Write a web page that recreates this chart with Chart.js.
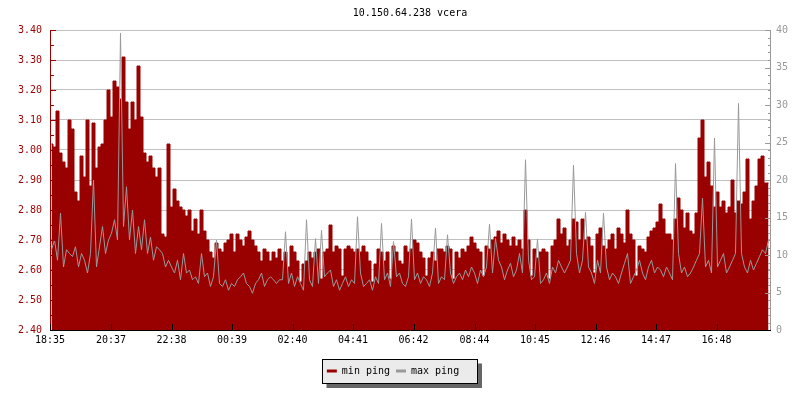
<!DOCTYPE html>
<html><head><meta charset="utf-8">
<script src="https://cdn.jsdelivr.net/npm/chart.js@4/dist/chart.umd.min.js"></script>
<style>html,body{margin:0;padding:0;background:#fff}canvas{display:block}</style>
</head><body>
<canvas id="c" width="800" height="400"></canvas>
<script>
const chartTitle = '10.150.64.238 vcera';
const seriesNames = ['min ping', 'max ping'];
const startTime = '18:35';
const stepMinutes = 6;
const tickLabels = ['18:35','20:37','22:38','00:39','02:40','04:41','06:42','08:44','10:45','12:46','14:47','16:48'];
const leftTickLabels = ['2.40','2.50','2.60','2.70','2.80','2.90','3.00','3.10','3.20','3.30','3.40'];
const rightTickLabels = ['0','5','10','15','20','25','30','35','40'];

const minPing = [
3.02,3.01,3.13,2.99,2.96,2.94,3.10,3.07,2.86,2.83,2.98,2.91,3.10,2.88,3.09,2.94,3.01,3.02,3.10,3.20,
3.11,3.23,3.21,3.17,3.31,3.16,3.07,3.16,3.10,3.28,3.11,2.99,2.96,2.98,2.94,2.91,2.94,2.72,2.71,3.02,
2.81,2.87,2.83,2.81,2.80,2.78,2.80,2.73,2.77,2.72,2.80,2.73,2.70,2.66,2.64,2.69,2.67,2.66,2.69,2.70,
2.72,2.66,2.72,2.70,2.68,2.71,2.73,2.70,2.68,2.66,2.63,2.67,2.66,2.63,2.66,2.64,2.67,2.63,2.66,2.61,
2.68,2.66,2.63,2.56,2.62,2.63,2.66,2.64,2.66,2.67,2.57,2.66,2.67,2.75,2.66,2.68,2.67,2.58,2.67,2.68,
2.67,2.66,2.67,2.66,2.68,2.66,2.63,2.56,2.62,2.67,2.66,2.63,2.66,2.57,2.68,2.66,2.63,2.62,2.68,2.66,
2.67,2.70,2.69,2.66,2.64,2.58,2.64,2.66,2.63,2.67,2.67,2.66,2.68,2.67,2.57,2.66,2.64,2.67,2.66,2.68,
2.71,2.69,2.67,2.66,2.58,2.68,2.67,2.70,2.71,2.73,2.69,2.72,2.70,2.68,2.71,2.68,2.70,2.67,2.80,2.70,
2.58,2.67,2.64,2.66,2.67,2.66,2.57,2.68,2.70,2.77,2.72,2.74,2.68,2.70,2.77,2.76,2.70,2.77,2.70,2.71,
2.68,2.59,2.72,2.74,2.68,2.67,2.70,2.72,2.67,2.74,2.72,2.69,2.80,2.72,2.70,2.58,2.68,2.67,2.66,2.71,
2.73,2.74,2.76,2.82,2.77,2.72,2.72,2.70,2.77,2.84,2.80,2.74,2.79,2.73,2.72,2.79,3.04,3.10,2.91,2.96,
2.88,2.81,2.86,2.81,2.83,2.79,2.81,2.90,2.79,2.83,2.82,2.86,2.97,2.77,2.83,2.88,2.97,2.98,2.89,2.89
];
const maxPing = [
10.7,12.0,9.3,15.6,8.4,10.7,10.2,9.8,11.1,8.4,10.2,9.3,7.6,10.2,20.0,8.4,11.1,13.8,10.2,12.0,
12.9,14.7,12.0,39.6,13.8,19.1,12.0,16.0,10.2,13.8,10.7,14.7,10.2,12.4,9.3,11.1,10.7,10.2,8.4,9.3,
8.4,7.6,9.3,6.7,10.2,7.6,8.0,6.7,7.1,6.2,10.2,7.1,7.6,5.8,7.1,12.0,6.2,5.8,6.7,5.3,
6.2,5.8,6.7,7.1,7.6,6.2,5.8,4.9,6.2,6.7,7.6,5.8,6.7,7.1,6.7,6.2,6.7,6.7,13.1,6.2,
7.6,5.8,7.1,6.2,5.3,14.7,6.7,5.8,12.2,6.2,13.3,7.1,7.6,8.0,5.8,6.7,5.3,6.2,7.1,5.8,
6.7,6.2,15.1,7.6,5.8,6.2,6.7,5.3,7.1,6.2,14.2,6.7,7.6,5.8,11.8,7.1,7.6,6.2,5.8,7.1,
14.8,6.7,7.6,6.2,7.1,6.7,5.8,7.6,13.6,6.2,7.1,6.7,12.7,7.6,6.2,7.1,7.6,6.7,8.0,7.1,
8.4,7.6,6.2,8.0,7.1,8.4,14.1,7.6,12.2,9.3,8.4,6.7,8.0,8.9,7.1,8.0,10.2,7.6,22.7,9.3,
6.7,7.1,12.1,6.2,6.7,7.6,6.2,8.4,7.6,9.3,8.4,7.6,8.4,9.3,22.0,10.2,7.6,9.3,15.7,8.4,
7.6,6.2,9.3,7.6,15.6,8.4,6.7,7.6,7.1,6.2,7.6,8.9,10.2,6.2,7.1,8.0,9.3,7.6,6.7,8.4,
9.3,7.6,8.4,8.0,7.1,8.4,7.6,6.7,22.2,10.2,7.6,8.4,7.1,7.6,8.4,9.3,10.2,17.6,8.4,9.3,
7.6,25.6,8.4,9.3,10.2,7.6,8.4,9.3,10.2,30.2,10.2,8.4,7.6,9.3,8.0,8.9,9.8,10.7,10.2,12.0
];

const FONT = '"DejaVu Sans Mono", "Liberation Mono", monospace';
const RED = '#990000', GREY = '#999999';

function toMinutes(s) {
  const [h, m] = s.split(':').map(Number);
  const [h0, m0] = startTime.split(':').map(Number);
  return ((h * 60 + m) - (h0 * 60 + m0) + 1440) % 1440;
}
const tickMinutes = tickLabels.map(toMinutes);
const daySpan = 1440;
const minData = minPing.map((v, i) => ({ x: i * stepMinutes + stepMinutes / 2, y: v }));
const maxData = maxPing.map((v, i) => ({ x: i * stepMinutes + stepMinutes / 2, y: v }));

const decor = {
  id: 'decor',
  afterLayout(chart) {
    const lg = chart.legend;
    if (lg) { lg.left -= 7; lg.right -= 7; }
  },
  beforeDraw(chart) {
    const ctx = chart.ctx, lg = chart.legend, a = chart.chartArea;
    ctx.save();
    ctx.font = '10px ' + FONT;
    ctx.fillStyle = '#000';
    ctx.textAlign = 'center';
    ctx.textBaseline = 'middle';
    ctx.fillText(chartTitle, (a.left + a.right) / 2, 13);
    if (lg && lg.lineWidths) {
      const p = lg.options.labels.padding;
      const lw = lg.lineWidths[0];
      const sx = (lg.left + p + lg.right - lw) / 2;
      const ex = sx + lw - p;
      const cy = lg.top + p + 5;
      const L = Math.round(sx - 5) + 0.5, R = Math.round(ex + 18) + 0.5;
      const T = Math.round(cy - 12) + 0.5, B = Math.round(cy + 12) + 0.5;
      ctx.fillStyle = '#666666';
      ctx.fillRect(L + 4, T + 4, R - L + 0.5, B - T + 0.5);
      ctx.fillStyle = '#ebebeb';
      ctx.fillRect(L, T, R - L, B - T);
      ctx.strokeStyle = '#000';
      ctx.lineWidth = 1;
      ctx.strokeRect(L, T, R - L, B - T);
    }
    ctx.restore();
  },
  afterDatasetsDraw(chart) {
    const ctx = chart.ctx, a = chart.chartArea;
    const { x, y, y1 } = chart.scales;
    ctx.save();
    ctx.lineWidth = 1;
    ctx.strokeStyle = RED;
    ctx.beginPath();
    ctx.moveTo(a.left + 0.5, a.top);
    ctx.lineTo(a.left + 0.5, a.bottom + 1);
    y.ticks.forEach((t, i) => {
      const py = Math.round(y.getPixelForValue(t.value)) + 0.5;
      ctx.moveTo(a.left, py); ctx.lineTo(a.left + 6, py);
      if (i < y.ticks.length - 1) {
        const pm = Math.round(y.getPixelForValue((t.value + y.ticks[i + 1].value) / 2)) + 0.5;
        ctx.moveTo(a.left, pm); ctx.lineTo(a.left + 4, pm);
      }
    });
    ctx.stroke();
    ctx.strokeStyle = GREY;
    ctx.beginPath();
    ctx.moveTo(a.right + 0.5, a.top);
    ctx.lineTo(a.right + 0.5, a.bottom + 1);
    y1.ticks.forEach((t, i) => {
      const py = Math.round(y1.getPixelForValue(t.value)) + 0.5;
      ctx.moveTo(a.right + 1, py); ctx.lineTo(a.right - 5, py);
      if (i < y1.ticks.length - 1) {
        const step = (y1.ticks[i + 1].value - t.value) / 5;
        for (let k = 1; k < 5; k++) {
          const pm = Math.round(y1.getPixelForValue(t.value + k * step)) + 0.5;
          ctx.moveTo(a.right + 1, pm); ctx.lineTo(a.right - 2, pm);
        }
      }
    });
    ctx.stroke();
    ctx.strokeStyle = '#000';
    ctx.beginPath();
    ctx.moveTo(a.left, a.bottom + 0.5);
    ctx.lineTo(a.right + 1, a.bottom + 0.5);
    x.ticks.forEach(t => {
      const px = Math.round(x.getPixelForValue(t.value)) + 0.5;
      ctx.moveTo(px, a.bottom + 1); ctx.lineTo(px, a.bottom - 6);
    });
    ctx.stroke();
    ctx.restore();
  }
};

new Chart(document.getElementById('c'), {
  type: 'line',
  data: {
    datasets: [
      { label: seriesNames[0], data: minData, yAxisID: 'y', fill: 'start', stepped: 'middle',
        backgroundColor: RED, borderColor: RED, borderWidth: 1, pointRadius: 0, order: 2 },
      { label: seriesNames[1], data: maxData, yAxisID: 'y1', fill: false, tension: 0,
        backgroundColor: GREY, borderColor: GREY, borderWidth: 1, pointRadius: 0, order: 1 }
    ]
  },
  options: {
    responsive: false,
    animation: false,
    layout: { padding: { top: 30, left: 0, right: 0, bottom: 14 } },
    plugins: {
      title: { display: false },
      tooltip: { enabled: false },
      legend: {
        display: true, position: 'bottom',
        labels: {
          boxWidth: 10, boxHeight: 3, padding: 6, color: '#000',
          font: { family: FONT, size: 10 },
          generateLabels(chart) {
            return chart.data.datasets.map((ds, i) => ({
              text: ds.label, fillStyle: ds.borderColor, strokeStyle: ds.borderColor,
              lineWidth: 0, hidden: false, datasetIndex: i, fontColor: '#000'
            }));
          }
        }
      }
    },
    scales: {
      x: {
        type: 'linear', min: 0, max: daySpan,
        afterBuildTicks(scale) { scale.ticks = tickMinutes.map(v => ({ value: v })); },
        afterFit(scale) { scale.height = 30; },
        grid: { display: false, drawTicks: false },
        border: { display: false },
        ticks: {
          autoSkip: false, maxRotation: 0, padding: 4, color: '#000',
          font: { family: FONT, size: 10 },
          callback(v) { const k = tickMinutes.indexOf(v); return k >= 0 ? tickLabels[k] : ''; }
        }
      },
      y: {
        position: 'left', min: 2.4, max: 3.4,
        afterFit(scale) { scale.width = 50; },
        grid: { color: '#c0c0c0', drawTicks: false },
        border: { display: false },
        ticks: {
          stepSize: 0.1, padding: 8, color: RED, font: { family: FONT, size: 10 },
          callback(v) { const k = Math.round((v - 2.4) * 10); return leftTickLabels[k]; }
        }
      },
      y1: {
        position: 'right', min: 0, max: 40,
        afterFit(scale) { scale.width = 30; },
        grid: { display: false, drawTicks: false },
        border: { display: false },
        ticks: {
          stepSize: 5, padding: 6, color: GREY, font: { family: FONT, size: 10 },
          callback(v) { return rightTickLabels[Math.round(v / 5)]; }
        }
      }
    }
  },
  plugins: [decor]
});
</script>
</body></html>
